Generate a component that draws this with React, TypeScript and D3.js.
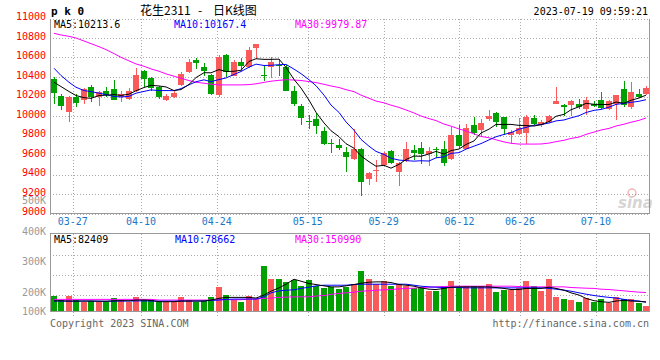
import { useMemo } from "react";
import * as d3 from "d3";

const W = 660;
const H = 360;
const LEFT = 50;
const RIGHT = 649;
const P_TOP = 18.5;
const P_BOTTOM = 213.5;
const V_TOP = 233.5;
const V_BOTTOM = 311.5;

const RED = "#f95a5a";
const GREEN = "#00a000";
const MONO = "'DejaVu Sans Mono', monospace";
const CJK = "'Noto Sans CJK SC', sans-serif";

// date ticks: label + candle index
const tickLabels = ["03-27", "04-10", "04-24", "05-15", "05-29", "06-12", "06-26", "07-10"];
const tickIndex = [3, 12, 22, 34, 44, 54, 62, 72];

const opens = [
  10381, 10203, 10040, 10200, 10169, 10299, 10196, 10261, 10272, 10193,
  10176, 10254, 10459, 10387, 10295, 10159, 10200, 10323, 10449, 10571,
  10500, 10421, 10215, 10626, 10415, 10558, 10500, 10694, 10425, 10500,
  10527, 10500, 10261, 10101, 9948, 9971, 9842, 9723, 9699, 9631,
  9562, 9658, 9351, 9433, 9494, 9637, 9426, 9535, 9648, 9675,
  9613, 9665, 9658, 9556, 9801, 9665, 9903, 9859, 9965, 10033,
  9985, 9808, 9815, 9828, 9978, 9903, 9937, 10128, 10108, 10108,
  10118, 10067, 10118, 10159, 10067, 10125, 10278, 10091, 10230, 10227,
];
const highs = [
  10398, 10227, 10210, 10227, 10289, 10319, 10261, 10302, 10374, 10261,
  10285, 10496, 10473, 10398, 10312, 10227, 10268, 10449, 10585, 10592,
  10544, 10432, 10630, 10636, 10575, 10595, 10704, 10740, 10524, 10602,
  10585, 10524, 10312, 10118, 10006, 10033, 9886, 9767, 9767, 9682,
  9869, 9672, 9426, 9545, 9631, 9654, 9528, 9733, 9706, 9733,
  9682, 9682, 9740, 9886, 9903, 9920, 9988, 9965, 10057, 10040,
  9988, 9852, 9978, 10012, 10006, 9954, 10012, 10295, 10118, 10169,
  10176, 10193, 10149, 10244, 10159, 10220, 10363, 10346, 10278, 10312,
];
const lows = [
  10118, 10057, 9937, 10091, 10125, 10142, 10101, 10193, 10159, 10142,
  10159, 10244, 10295, 10261, 10176, 10149, 10183, 10312, 10442, 10483,
  10415, 10217, 10200, 10398, 10408, 10466, 10490, 10585, 10363, 10387,
  10415, 10254, 10101, 9903, 9869, 9811, 9706, 9624, 9648, 9426,
  9552, 9181, 9290, 9324, 9487, 9511, 9283, 9528, 9545, 9511,
  9487, 9569, 9487, 9552, 9672, 9658, 9801, 9784, 9944, 9886,
  9808, 9726, 9801, 9709, 9903, 9886, 9927, 10118, 9999, 9999,
  10074, 10006, 10091, 10067, 10057, 9954, 10091, 10074, 10186, 10217,
];
const closes = [
  10234, 10101, 10200, 10132, 10272, 10200, 10244, 10217, 10169, 10227,
  10261, 10421, 10381, 10285, 10193, 10210, 10234, 10432, 10551, 10544,
  10459, 10227, 10600, 10449, 10558, 10510, 10681, 10738, 10418, 10558,
  10520, 10261, 10118, 9978, 9937, 9897, 9716, 9716, 9672, 9579,
  9665, 9324, 9416, 9443, 9624, 9518, 9518, 9665, 9620, 9613,
  9637, 9651, 9522, 9801, 9692, 9876, 9828, 9931, 9999, 9937,
  9869, 9835, 9879, 9988, 9914, 9937, 9995, 10149, 10091, 10149,
  10091, 10169, 10098, 10081, 10149, 10217, 10108, 10251, 10193, 10292,
];
const ma5 = [
  10346, 10302, 10251, 10210, 10188, 10181, 10210, 10213, 10220, 10211,
  10224, 10259, 10292, 10315, 10308, 10298, 10261, 10271, 10324, 10394,
  10444, 10443, 10476, 10456, 10459, 10469, 10560, 10587, 10581, 10581,
  10583, 10499, 10375, 10287, 10163, 10038, 9929, 9849, 9788, 9716,
  9670, 9591, 9531, 9485, 9494, 9465, 9504, 9554, 9589, 9587,
  9611, 9637, 9609, 9645, 9661, 9708, 9744, 9826, 9865, 9914,
  9913, 9914, 9904, 9902, 9897, 9911, 9943, 9997, 10017, 10064,
  10095, 10130, 10120, 10118, 10118, 10143, 10131, 10161, 10184, 10214,
];
const ma10 = [
  10490, 10415, 10346, 10295, 10261, 10250, 10234, 10220, 10200, 10195,
  10202, 10234, 10252, 10268, 10260, 10261, 10260, 10281, 10320, 10351,
  10371, 10352, 10374, 10390, 10426, 10456, 10501, 10532, 10518, 10520,
  10526, 10529, 10481, 10434, 10372, 10311, 10214, 10112, 10037, 9939,
  9854, 9760, 9690, 9637, 9605, 9567, 9548, 9542, 9537, 9541,
  9538, 9571, 9581, 9617, 9624, 9660, 9691, 9717, 9755, 9787,
  9811, 9829, 9865, 9883, 9906, 9912, 9928, 9950, 9959, 9981,
  10003, 10036, 10058, 10067, 10091, 10119, 10130, 10140, 10151, 10167,
];
const ma30 = [
  10848, 10831, 10817, 10800, 10769, 10742, 10711, 10681, 10640, 10602,
  10565, 10534, 10510, 10483, 10459, 10432, 10408, 10387, 10363, 10346,
  10336, 10326, 10319, 10319, 10319, 10319, 10322, 10330, 10345, 10357,
  10366, 10372, 10369, 10364, 10353, 10343, 10325, 10308, 10292, 10270,
  10250, 10214, 10182, 10153, 10135, 10111, 10088, 10062, 10031, 10000,
  9973, 9953, 9917, 9896, 9867, 9846, 9817, 9790, 9777, 9756,
  9734, 9720, 9712, 9712, 9712, 9713, 9722, 9737, 9751, 9770,
  9784, 9812, 9835, 9856, 9873, 9897, 9916, 9936, 9955, 9980,
];

// volume in thousands
const volumes = [
  135, 97, 135, 97, 84, 90, 78, 78, 115, 90,
  84, 127, 97, 97, 84, 84, 84, 127, 97, 78,
  94, 127, 217, 145, 97, 78, 133, 108, 409, 292,
  292, 265, 277, 226, 280, 226, 211, 214, 202, 217,
  244, 364, 292, 244, 271, 226, 247, 226, 205, 217,
  184, 184, 226, 271, 217, 226, 226, 226, 244, 175,
  193, 193, 205, 271, 226, 184, 292, 129, 108, 99,
  81, 120, 84, 108, 75, 128, 108, 108, 68, 42,
];
const vma5 = [
  92, 92, 90, 90, 90, 90, 88, 88, 92, 94,
  92, 99, 99, 96, 84, 84, 84, 90, 90, 90,
  90, 99, 114, 123, 123, 123, 123, 117, 144, 179,
  209, 242, 287, 269, 248, 239, 227, 218, 218, 227,
  239, 251, 260, 263, 263, 257, 239, 233, 224, 209,
  197, 194, 204, 215, 218, 218, 218, 218, 218, 212,
  204, 194, 194, 204, 204, 204, 215, 204, 188, 164,
  144, 114, 93, 84, 78, 90, 96, 90, 87, 82,
];
const vma10 = [
  90, 90, 89, 89, 90, 90, 89, 88, 89, 90,
  90, 91, 91, 90, 89, 89, 89, 90, 90, 90,
  91, 96, 99, 105, 108, 108, 108, 108, 128, 164,
  182, 188, 191, 204, 215, 227, 233, 233, 233, 233,
  239, 242, 242, 242, 242, 242, 242, 242, 233, 224,
  218, 215, 212, 212, 212, 209, 209, 209, 209, 209,
  209, 209, 209, 209, 209, 209, 204, 197, 188, 179,
  164, 152, 140, 131, 123, 117, 105, 96, 90, 79,
];
const vma30 = [
  105, 105, 105, 105, 105, 105, 105, 105, 105, 105,
  105, 105, 105, 105, 99, 99, 99, 99, 99, 99,
  99, 99, 102, 102, 102, 102, 108, 108, 114, 117,
  123, 125, 128, 128, 128, 135, 140, 150, 159, 164,
  170, 179, 182, 188, 191, 194, 200, 204, 206, 212,
  215, 218, 221, 224, 224, 224, 224, 224, 224, 224,
  224, 224, 221, 218, 218, 218, 218, 218, 218, 212,
  209, 206, 204, 197, 194, 188, 182, 176, 170, 167,
  161, 151,
].slice(0, 80);

const volTicks = [100, 200, 300, 400, 500];

const priceLegend = [
  { text: "MA5:10213.6", color: "#000", x: 54 },
  { text: "MA10:10167.4", color: "#0000ff", x: 174 },
  { text: "MA30:9979.87", color: "#ff00ff", x: 295 },
];
const volLegend = [
  { text: "MA5:82409", color: "#000", x: 54 },
  { text: "MA10:78662", color: "#0000ff", x: 175 },
  { text: "MA30:150990", color: "#ff00ff", x: 295 },
];

export default function App() {
  const n = closes.length;
  const idx = d3.range(n);

  const xBand = useMemo(
    () => d3.scaleBand<number>().domain(idx).range([LEFT, 650]).paddingInner(0.2).paddingOuter(0.1),
    [n]
  );
  const xGrid = d3.scaleLinear().domain([0, n - 1]).range([LEFT, RIGHT]);
  const yPrice = d3.scaleLinear().domain([9000, 11000]).range([P_BOTTOM, P_TOP]);
  const yVol = d3.scaleLinear().domain([0, 700]).range([V_BOTTOM - 0.5, V_TOP]);
  const yVolLabel = d3.scaleLinear().domain([0, 500]).range([352, 199.5]);

  const bw = Math.round(xBand.bandwidth());
  const left = (i: number) => Math.round(xBand(i) as number);
  const cx = (i: number) => left(i) + bw / 2;

  const priceLine = (vals: number[]) =>
    d3.line<number>().x((_, i) => cx(i)).y((d) => yPrice(d))(vals) as string;
  const volLine = (vals: number[]) =>
    d3.line<number>().x((_, i) => cx(i)).y((d) => yVol(d))(vals) as string;

  const priceTicks = yPrice.ticks(10);
  const volGrid = [255.5, 275.5, 295.5];

  return (
    <svg width={W} height={H} style={{ display: "block", position: "absolute", left: 0, top: 0 }}>
      <rect width={W} height={H} fill="#fff" />

      {/* header */}
      <text x={51} y={15} fontFamily={MONO} fontWeight="bold" fontSize={11} fill="#000">p k 0</text>
      <text x={140} y={15} fontFamily={CJK} fontSize={12} fill="#000">花生2311</text>
      <text x={198} y={15} fontFamily={CJK} fontSize={12} fill="#000">-</text>
      <text x={213} y={15} fontFamily={CJK} fontSize={12} fill="#000">日K线图</text>
      <text x={648} y={15} textAnchor="end" fontFamily={MONO} fontSize={10} fill="#000">
        2023-07-19 09:59:21
      </text>

      {/* price grid */}
      <g stroke="#aaa" strokeDasharray="1,2" shapeRendering="crispEdges">
        {priceTicks.map((t) => (
          <line key={t} x1={LEFT} x2={RIGHT} y1={Math.round(yPrice(t)) + 0.5} y2={Math.round(yPrice(t)) + 0.5} />
        ))}
        {tickIndex.map((ti) => (
          <line key={ti} x1={Math.round(xGrid(ti)) + 0.5} x2={Math.round(xGrid(ti)) + 0.5} y1={P_TOP} y2={P_BOTTOM} />
        ))}
      </g>

      {/* candles */}
      <g shapeRendering="crispEdges">
        {idx.map((i) => {
          const up = closes[i] >= opens[i];
          const col = up ? RED : GREEN;
          const yTop = Math.round(yPrice(Math.max(opens[i], closes[i])));
          const yBot = Math.round(yPrice(Math.min(opens[i], closes[i])));
          const wx = Math.floor(cx(i)) + 0.5;
          return (
            <g key={i}>
              <line x1={wx} x2={wx} y1={Math.round(yPrice(highs[i]))} y2={Math.round(yPrice(lows[i]))} stroke={col} />
              <rect x={left(i)} y={yTop} width={bw} height={Math.max(1, yBot - yTop)} fill={col} />
            </g>
          );
        })}
      </g>

      {/* price MA lines */}
      <path d={priceLine(ma30)} fill="none" stroke="#ff00ff" strokeWidth={1} />
      <path d={priceLine(ma10)} fill="none" stroke="#0000ff" strokeWidth={1} />
      <path d={priceLine(ma5)} fill="none" stroke="#000" strokeWidth={1} />

      {/* price frame */}
      <g stroke="#999" shapeRendering="crispEdges" fill="none">
        <line x1={LEFT + 0.5} x2={LEFT + 0.5} y1={P_TOP} y2={P_BOTTOM} />
        <line x1={RIGHT + 0.5} x2={RIGHT + 0.5} y1={P_TOP} y2={P_BOTTOM} />
        <line x1={LEFT} x2={RIGHT + 1} y1={P_BOTTOM} y2={P_BOTTOM} />
      </g>

      {/* price labels */}
      <g fontFamily={MONO} fontSize={10} fill="#ff0000" textAnchor="end">
        {priceTicks.map((t) => (
          <text key={t} x={46} y={yPrice(t) + 1.5}>{t}</text>
        ))}
      </g>
      {priceLegend.map((l) => (
        <text key={l.text} x={l.x} y={27.5} fontFamily={MONO} fontSize={10} fill={l.color}>{l.text}</text>
      ))}

      {/* date labels */}
      <g fontFamily={MONO} fontSize={10} fill="#1a78c8" textAnchor="middle">
        {tickIndex.map((ti, k) => (
          <text key={ti} x={xGrid(ti)} y={224.5}>{tickLabels[k]}</text>
        ))}
      </g>

      {/* sina watermark */}
      <g opacity={0.35}>
        <circle cx={632} cy={193} r={4} fill="none" stroke="#d33" strokeWidth={1.5} />
        <text x={618} y={208} fontFamily="'DejaVu Sans', sans-serif" fontStyle="italic" fontWeight="bold" fontSize={15} fill="#888">sina</text>
      </g>

      {/* volume grid */}
      <g stroke="#aaa" strokeDasharray="1,2" shapeRendering="crispEdges">
        {volGrid.map((y) => (
          <line key={y} x1={LEFT} x2={RIGHT} y1={y} y2={y} />
        ))}
        {tickIndex.map((ti) => (
          <line key={ti} x1={Math.round(xGrid(ti)) + 0.5} x2={Math.round(xGrid(ti)) + 0.5} y1={V_TOP} y2={318} />
        ))}
      </g>

      {/* volume bars */}
      <g shapeRendering="crispEdges">
        {idx.map((i) => {
          const up = closes[i] >= opens[i];
          const y = Math.round(yVol(volumes[i]));
          return (
            <rect key={i} x={left(i)} y={y} width={bw} height={V_BOTTOM - 0.5 - y} fill={up ? RED : GREEN} />
          );
        })}
      </g>

      <path d={volLine(vma30)} fill="none" stroke="#ff00ff" strokeWidth={1} />
      <path d={volLine(vma10)} fill="none" stroke="#0000ff" strokeWidth={1} />
      <path d={volLine(vma5)} fill="none" stroke="#000" strokeWidth={1} />

      {/* volume frame */}
      <g stroke="#999" shapeRendering="crispEdges" fill="none">
        <line x1={LEFT} x2={RIGHT + 1} y1={V_TOP} y2={V_TOP} />
        <line x1={LEFT + 0.5} x2={LEFT + 0.5} y1={V_TOP} y2={V_BOTTOM} />
        <line x1={RIGHT + 0.5} x2={RIGHT + 0.5} y1={V_TOP} y2={V_BOTTOM} />
        <line x1={LEFT} x2={RIGHT + 1} y1={V_BOTTOM} y2={V_BOTTOM} />
      </g>

      {/* volume labels */}
      <g fontFamily={MONO} fontSize={10} fill="#999" textAnchor="end">
        {volTicks.map((v) => (
          <text key={v} x={46} y={Math.min(yVolLabel(v), 310) + 4.5}>{`${v}K`}</text>
        ))}
      </g>
      {volLegend.map((l) => (
        <text key={l.text} x={l.x} y={242.5} fontFamily={MONO} fontSize={10} fill={l.color}>{l.text}</text>
      ))}

      {/* footer */}
      <text x={50} y={327} fontFamily={MONO} fontSize={10} fill="#666">Copyright 2023 SINA.COM</text>
      <text x={649} y={327} textAnchor="end" fontFamily={MONO} fontSize={10} fill="#666">http://finance.sina.com.cn</text>
    </svg>
  );
}
